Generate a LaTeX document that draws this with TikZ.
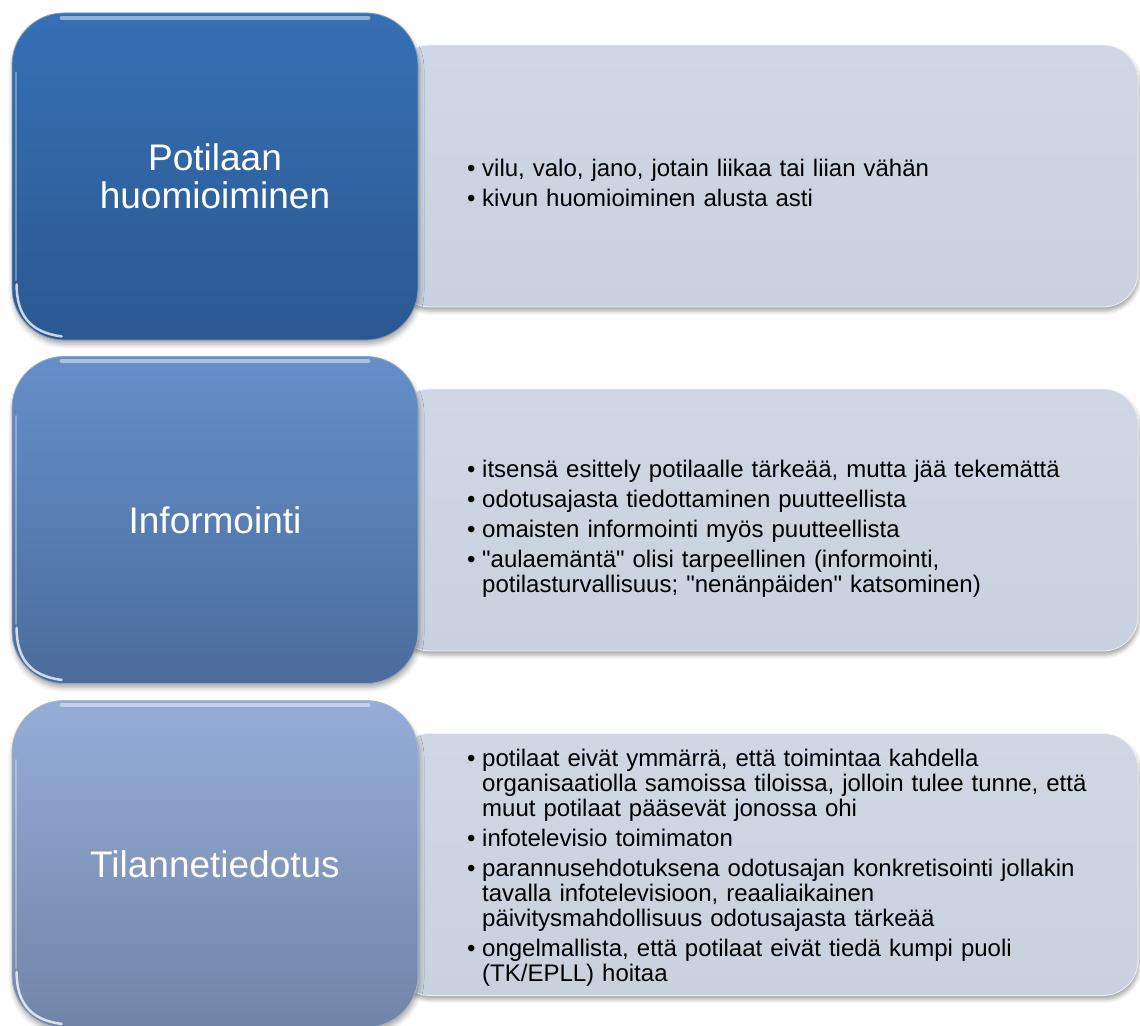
\documentclass[tikz,border=0pt]{standalone}
\usepackage{fontspec}
\setmainfont{Liberation Sans}[Ligatures=TeXOff]
\usetikzlibrary{shadows.blur,calc}
\definecolor{cAt}{HTML}{3670B4}
\definecolor{cAb}{HTML}{2B5891}
\definecolor{cBt}{HTML}{658FC9}
\definecolor{cBb}{HTML}{4B6C9C}
\definecolor{cCt}{HTML}{96ADD7}
\definecolor{cCb}{HTML}{7184A8}
\definecolor{panT}{HTML}{D0D7E4}
\definecolor{panB}{HTML}{C9D0DE}
\newcommand{\itm}[1]{\par\noindent\hangindent=15pt\hangafter=1\makebox[15pt][l]{•}#1\par}
\begin{document}
\begin{tikzpicture}[x=1pt,y=-1pt,
  catbox/.style={rectangle, rounded corners=52pt, minimum width=406pt, minimum height=327pt,
    draw=white!40!#1, line width=0.8pt,
    blur shadow={shadow xshift=1pt, shadow yshift=-4pt, shadow blur radius=5pt, shadow opacity=35},
    text=white, align=center, font=\fontsize{37}{38}\selectfont},
  panel/.style={rectangle, rounded corners=35pt, minimum width=743pt, minimum height=262pt,
    draw=white!70!panB, line width=0.8pt, top color=panT, bottom color=panB,
    blur shadow={shadow xshift=1pt, shadow yshift=-4pt, shadow blur radius=4pt, shadow opacity=35}},
  itemtext/.style={anchor=west, inner sep=0pt, text width=660pt, align=left,
    font=\fontsize{24}{25}\selectfont},
  gloss/.style={white, opacity=0.45, line width=4pt, line cap=round},
  glint/.style={white, opacity=0.75, line width=2.5pt, line cap=round},
  edgelight/.style={white, opacity=0.3, line width=2pt, line cap=round}
]
\useasboundingbox (0,0) rectangle (1140,1025);
\clip (0,0) rectangle (1140,1025);

% right panels
\node[panel] (p1) at (766.5,176) {};
\node[panel] (p2) at (766.5,520) {};
\node[panel] (p3) at (766.5,864.5) {};

% left category boxes
\node[catbox=cAb, top color=cAt, bottom color=cAb] (c1) at (215,176.5) {Potilaan\\huomioiminen};
\node[catbox=cBb, top color=cBt, bottom color=cBb] (c2) at (215,520) {Informointi};
\node[catbox=cCb, top color=cCt, bottom color=cCb] (c3) at (215,864) {Tilannetiedotus};

% glossy highlights
\foreach \b in {c1,c2,c3}{
  \draw[gloss] ($(\b.north west)+(50,5)$) -- ($(\b.north east)+(-50,5)$);
  \draw[edgelight] ($(\b.north west)+(4,60)$) -- ($(\b.south west)+(4,-60)$);
  \draw[glint] ($(\b.south west)+(5,-56)$) .. controls ($(\b.south west)+(5,-26)$) and ($(\b.south west)+(18,-8)$) .. ($(\b.south west)+(50,-4)$);
}

% bullet texts
\node[itemtext] (t1) at (467,177) {\setlength{\parskip}{5pt}\raggedright
\itm{vilu, valo, jano, jotain liikaa tai liian vähän}
\itm{kivun huomioiminen alusta asti}};

\node[itemtext] (t2) at (467,522) {\setlength{\parskip}{5pt}\raggedright
\itm{itsensä esittely potilaalle tärkeää, mutta jää tekemättä}
\itm{odotusajasta tiedottaminen puutteellista}
\itm{omaisten informointi myös puutteellista}
\itm{"aulaemäntä" olisi tarpeellinen (informointi,\newline potilasturvallisuus; "nenänpäiden" katsominen)}};

\node[itemtext] (t3) at (467,861) {\setlength{\parskip}{5pt}\raggedright
\itm{potilaat eivät ymmärrä, että toimintaa kahdella\newline organisaatiolla samoissa tiloissa, jolloin tulee tunne, että\newline muut potilaat pääsevät jonossa ohi}
\itm{infotelevisio toimimaton}
\itm{parannusehdotuksena odotusajan konkretisointi jollakin\newline tavalla infotelevisioon, reaaliaikainen\newline päivitysmahdollisuus odotusajasta tärkeää}
\itm{ongelmallista, että potilaat eivät tiedä kumpi puoli\newline (TK/EPLL) hoitaa}};
\end{tikzpicture}
\end{document}
